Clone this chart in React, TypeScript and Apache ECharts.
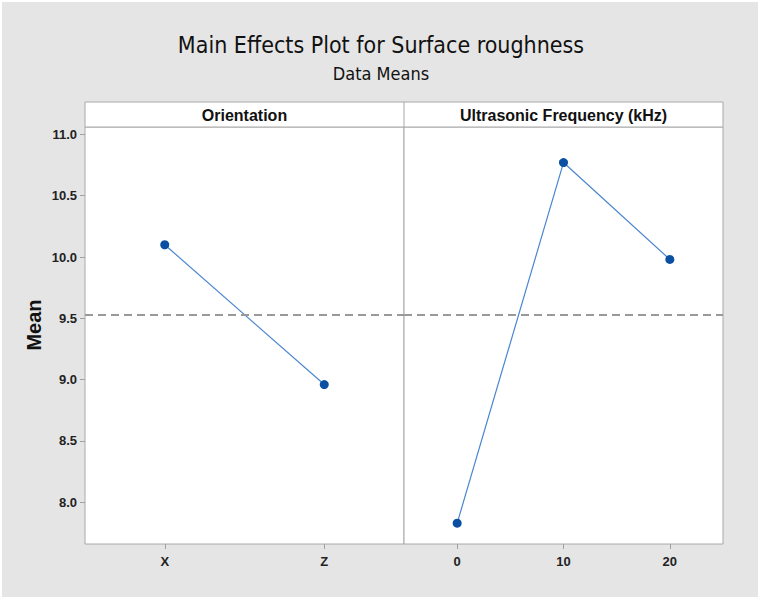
import React, { useEffect, useRef } from "react";
import * as echarts from "echarts";

const orientationCats = ["X", "Z"];
const orientationMeans = [10.1, 8.96];
const freqCats = ["0", "10", "20"];
const freqMeans = [7.83, 10.77, 9.98];
const grandMean = 9.53;
const yTicks = [8.0, 8.5, 9.0, 9.5, 10.0, 10.5, 11.0];
const yMin = 7.66;
const yMax = 11.06;

export default function App() {
  const ref = useRef<HTMLDivElement>(null);
  useEffect(() => {
    if (!ref.current) return;
    const chart = echarts.init(ref.current, undefined, { renderer: "svg" });
    const gridTop = 127;
    const gridH = 417;
    const gridBorder = "#a8a8a8";
    const tickColor = "#a0a0a0";
    const labelFont = "Liberation Sans, Arial, sans-serif";
    const titleFont = "DejaVu Sans Condensed, Liberation Sans Narrow, Liberation Sans, sans-serif";
    const xAxisCommon = {
      type: "category",
      boundaryGap: true,
      axisLine: { show: false },
      axisTick: { show: true, alignWithLabel: true, length: 5, lineStyle: { color: tickColor, width: 1 } },
      axisLabel: { fontSize: 13, fontWeight: "bold", color: "#222", margin: 11, fontFamily: labelFont },
      splitLine: { show: false },
    };
    const meanLine = {
      silent: true,
      symbol: ["none", "none"],
      label: { show: false },
      lineStyle: { color: "#999999", type: [8, 5], width: 2 },
      data: [{ yAxis: grandMean }],
    };
    const seriesCommon = {
      type: "line",
      symbol: "circle",
      symbolSize: 9,
      itemStyle: { color: "#0b4fa3" },
      lineStyle: { color: "#4a86cf", width: 1.2 },
    };
    chart.setOption({
      animation: false,
      backgroundColor: "#ffffff",
      graphic: [
        { type: "rect", z: -100, shape: { x: 2, y: 2, width: 756, height: 595 }, style: { fill: "#e5e5e5" } },
        { type: "rect", z: 1, shape: { x: 85, y: 102, width: 638, height: 25 }, style: { fill: "#ffffff", stroke: gridBorder, lineWidth: 1 } },
        { type: "line", z: 2, shape: { x1: 404, y1: 102, x2: 404, y2: 127 }, style: { stroke: gridBorder, lineWidth: 1 } },
        {
          type: "text", x: 381, y: 45,
          style: { text: "Main Effects Plot for Surface roughness", fontSize: 23, fontFamily: titleFont, fill: "#111", textAlign: "center", textVerticalAlign: "middle" },
        },
        {
          type: "text", x: 381, y: 73,
          style: { text: "Data Means", fontSize: 18, fontFamily: titleFont, fill: "#111", textAlign: "center", textVerticalAlign: "middle" },
        },
        {
          type: "text", z: 3, x: 244.5, y: 115,
          style: { text: "Orientation", fontSize: 16, fontWeight: "bold", fontFamily: labelFont, fill: "#111", textAlign: "center", textVerticalAlign: "middle" },
        },
        {
          type: "text", z: 3, x: 563.5, y: 115,
          style: { text: "Ultrasonic Frequency (kHz)", fontSize: 16, fontWeight: "bold", fontFamily: labelFont, fill: "#111", textAlign: "center", textVerticalAlign: "middle" },
        },
        {
          type: "text", x: 34, y: 325, rotation: Math.PI / 2,
          style: { text: "Mean", fontSize: 20, fontWeight: "bold", fontFamily: labelFont, fill: "#111", textAlign: "center", textVerticalAlign: "middle" },
        },
      ],
      grid: [
        { left: 85, top: gridTop, width: 319, height: gridH, show: true, backgroundColor: "#fff", borderColor: gridBorder, borderWidth: 1 },
        { left: 404, top: gridTop, width: 319, height: gridH, show: true, backgroundColor: "#fff", borderColor: gridBorder, borderWidth: 1 },
      ],
      xAxis: [
        { ...xAxisCommon, gridIndex: 0, data: orientationCats },
        { ...xAxisCommon, gridIndex: 1, data: freqCats },
      ],
      yAxis: [
        {
          type: "value", gridIndex: 0, min: yMin, max: yMax,
          axisLine: { show: false },
          axisTick: { show: true, length: 5, customValues: yTicks, lineStyle: { color: tickColor } },
          axisLabel: {
            show: true, customValues: yTicks, fontSize: 13, fontWeight: "bold", color: "#222", margin: 8, fontFamily: labelFont,
            formatter: (v: number) => v.toFixed(1),
          },
          splitLine: { show: false },
        },
        {
          type: "value", gridIndex: 1, min: yMin, max: yMax,
          axisLine: { show: false }, axisTick: { show: false }, axisLabel: { show: false }, splitLine: { show: false },
        },
      ],
      series: [
        { ...seriesCommon, xAxisIndex: 0, yAxisIndex: 0, data: orientationMeans, markLine: meanLine },
        { ...seriesCommon, xAxisIndex: 1, yAxisIndex: 1, data: freqMeans, markLine: meanLine },
      ],
    });
    return () => chart.dispose();
  }, []);
  return (
    <div style={{ position: "absolute", left: 0, top: 0, width: 762, height: 601, background: "#fff" }}>
      <div ref={ref} style={{ width: 762, height: 601 }} />
    </div>
  );
}
